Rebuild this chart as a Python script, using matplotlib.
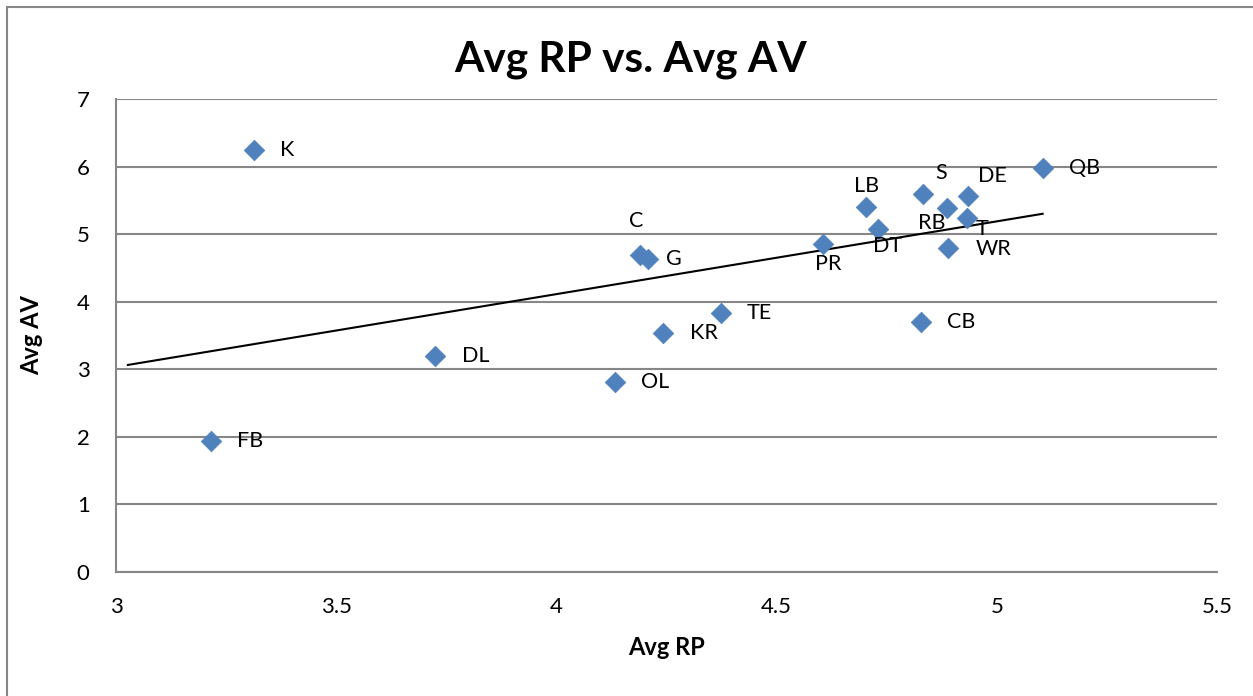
import numpy as np
import matplotlib
matplotlib.use("Agg")
import matplotlib.pyplot as plt
from matplotlib.patches import Rectangle

positions = ["K", "FB", "DL", "OL", "C", "G", "KR", "TE", "PR", "LB",
             "DT", "S", "RB", "DE", "T", "WR", "CB", "QB"]
avg_rp = [3.313, 3.216, 3.724, 4.133, 4.190, 4.209, 4.243, 4.373, 4.606, 4.702,
          4.730, 4.833, 4.886, 4.934, 4.932, 4.890, 4.827, 5.104]
avg_av = [6.25, 1.94, 3.20, 2.81, 4.69, 4.63, 3.53, 3.83, 4.85, 5.40,
          5.08, 5.59, 5.39, 5.56, 5.24, 4.80, 3.70, 5.98]

# label offsets in pixels (dx, dy) and alignment
offsets = {
    "K": (26, 0, "left"), "FB": (26, 0, "left"), "DL": (27, 0, "left"),
    "OL": (26, 0, "left"), "C": (-4, 34, "center"), "G": (18, 0, "left"),
    "KR": (27, 0, "left"), "TE": (26, 0, "left"), "PR": (5, -20, "center"),
    "LB": (1, 21, "center"), "DT": (10, -17, "center"), "S": (18, 21, "center"),
    "RB": (-15, -15, "center"), "DE": (25, 20, "center"), "T": (15, -11, "center"),
    "WR": (27, -1, "left"), "CB": (26, 0, "left"), "QB": (26, 0, "left"),
}

plt.rcParams['font.family'] = ['Lato', 'DejaVu Sans']

W, H = 1253, 696
fig = plt.figure(figsize=(W / 100, H / 100), dpi=100)
ax = fig.add_axes([116 / W, 1 - 572 / H, (1217 - 116) / W, (572 - 99) / H])

gray = "#878787"
ax.set_xlim(3, 5.5)
ax.set_ylim(0, 7)
ax.set_xticks(np.arange(3, 5.51, 0.5))
ax.set_xticklabels(["3", "3.5", "4", "4.5", "5", "5.5"])
ax.set_yticks(range(0, 8))
ax.grid(axis="y", color=gray, linewidth=1.5)
ax.set_axisbelow(True)
for s in ["top", "right"]:
    ax.spines[s].set_visible(False)
for s in ["left", "bottom"]:
    ax.spines[s].set_color(gray)
    ax.spines[s].set_linewidth(1.5)
ax.tick_params(length=0, labelsize=16, colors="black")
ax.tick_params(axis="y", pad=19)
ax.tick_params(axis="x", pad=18)

# trend line (least squares)
slope, intercept = np.polyfit(avg_rp, avg_av, 1)
xl = np.array([3.027, max(avg_rp)])
ax.plot(xl, slope * xl + intercept, color="black", linewidth=1.5, zorder=2)

ax.scatter(avg_rp, avg_av, marker="D", s=110, color="#4F81BD", edgecolors="#4F81BD",
           linewidths=0.5, zorder=3)

for name, x, y in zip(positions, avg_rp, avg_av):
    dx, dy, ha = offsets[name]
    ax.annotate(name, (x, y), xytext=(dx * 0.72, dy * 0.72), textcoords="offset points",
                ha=ha, va="center", fontsize=15.5, zorder=4)

ax.set_xlabel("Avg RP", fontsize=17, fontweight="bold", labelpad=14)
ax.set_ylabel("Avg AV", fontsize=17, fontweight="bold", labelpad=24)
fig.text(631 / W, 1 - 60 / H, "Avg RP vs. Avg AV", fontsize=30.5, fontweight="bold",
         ha="center", va="center")

fig.patches.append(Rectangle((7 / W, -0.1), 1.2, 1 - 7 / H + 0.1, transform=fig.transFigure,
                             fill=False, edgecolor=gray, linewidth=1.5))

fig.savefig("out.png", dpi=100)
